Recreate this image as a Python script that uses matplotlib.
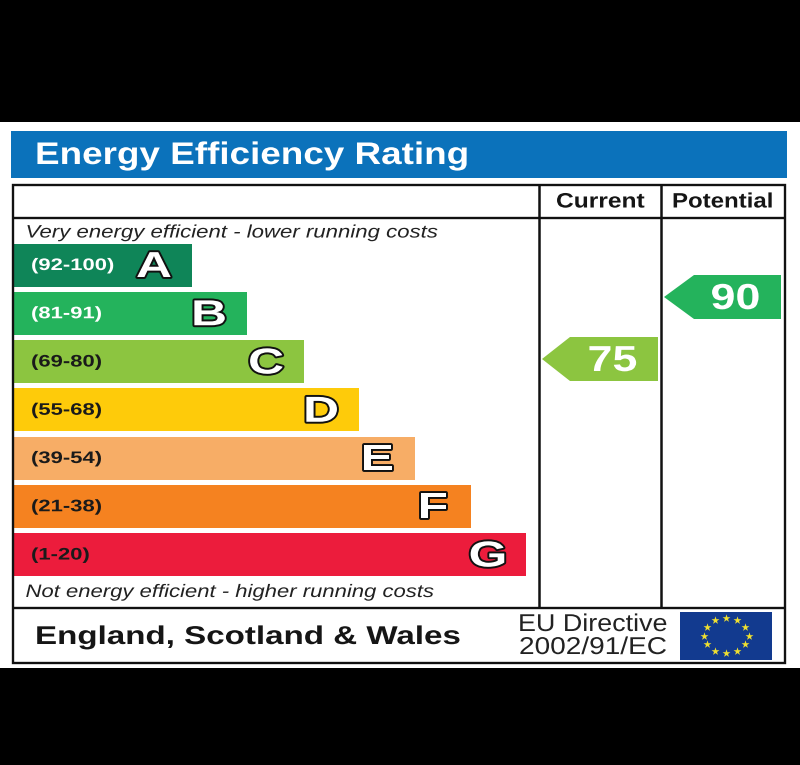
import matplotlib
matplotlib.use("Agg")
import matplotlib.pyplot as plt
import matplotlib.patheffects as pe
from matplotlib.transforms import Affine2D
import numpy as np
from matplotlib.patches import Rectangle, Polygon

# ---- data ----
band_letters = ["A", "B", "C", "D", "E", "F", "G"]
band_ranges = ["(92-100)", "(81-91)", "(69-80)", "(55-68)", "(39-54)", "(21-38)", "(1-20)"]
band_lengths = [178, 233, 290, 345, 401, 457, 512]
current_score = 75
potential_score = 90
title_text = "Energy Efficiency Rating"
column_titles = ["Current", "Potential"]
top_note = "Very energy efficient - lower running costs"
bottom_note = "Not energy efficient - higher running costs"
region_text = "England, Scotland & Wales"
directive_lines = ["EU Directive", "2002/91/EC"]

# ---- styles ----
band_colors = ["#0f8558", "#24b35c", "#8cc540", "#fecb0a", "#f7ad66", "#f58220", "#ec1c3c"]
band_text_colors = ["#ffffff", "#ffffff", "#1a1a1a", "#1a1a1a", "#1a1a1a", "#1a1a1a", "#1a1a1a"]
BLUE = "#0b72bb"
FONT = "Liberation Sans"
INK = "#151515"

fig = plt.figure(figsize=(8, 7.65), dpi=100, facecolor="black")
ax = fig.add_axes([0, 0, 1, 1])
ax.set_xlim(0, 800)
ax.set_ylim(765, 0)
ax.axis("off")
renderer = fig.canvas.get_renderer()


class HStretch(pe.AbstractPathEffect):
    """Widen glyphs about the text anchor, as the reference is a horizontally stretched image."""

    def __init__(self, anchor_x, sx, stroke=None, stroke_color="#111111"):
        super().__init__()
        self.anchor_x, self.sx, self.stroke, self.stroke_color = anchor_x, sx, stroke, stroke_color

    def draw_path(self, rend, gc, tpath, affine, rgbFace=None):
        stretched = affine + Affine2D().translate(-self.anchor_x, 0).scale(self.sx, 1).translate(self.anchor_x, 0)
        if self.stroke:
            gc0 = rend.new_gc()
            gc0.copy_properties(gc)
            gc0.set_linewidth(self.stroke)
            gc0.set_foreground(self.stroke_color)
            rend.draw_path(gc0, tpath, stretched, rgbFace)
            gc0.restore()
        rend.draw_path(gc, tpath, stretched, rgbFace)


def stext(x, y, s, size, width=None, sx=None, ha="left", color=INK, weight="normal",
          style="normal", stroke=None):
    """Baseline-anchored text widened to a target pixel width (or by a given factor)."""
    t = ax.text(x, y, s, fontsize=size, family=FONT, fontweight=weight, fontstyle=style,
                color=color, ha=ha, va="baseline", zorder=6)
    if sx is None:
        sx = width / t.get_window_extent(renderer).width
    anchor = ax.transData.transform((x, y))[0]
    t.set_path_effects([HStretch(anchor, sx, stroke)])
    return sx


ax.add_patch(Rectangle((0, 122), 800, 546, fc="white", ec="none", zorder=0))
ax.add_patch(Rectangle((11, 131), 776, 47, fc=BLUE, ec="none", zorder=1))
stext(35, 164, title_text, 22.5, width=434, color="white", weight="bold")

# frame
ax.add_patch(Rectangle((12.5, 184.5), 772, 478, fc="none", ec="#111111", lw=1.7, zorder=4))
ax.plot([13, 785], [218, 218], color="#111111", lw=1.7, zorder=4, solid_capstyle="butt")
ax.plot([13, 785], [607.5, 607.5], color="#111111", lw=1.7, zorder=4, solid_capstyle="butt")
for xv in (539, 661):
    ax.plot([xv, xv], [185, 607], color="#111111", lw=1.8, zorder=4, solid_capstyle="butt")

stext(556, 207.5, column_titles[0], 15, width=89, weight="bold")
stext(672, 207.5, column_titles[1], 15, width=102, weight="bold")

stext(25.5, 237.5, top_note, 13, width=411, style="italic", color="#222222")
stext(25.5, 597, bottom_note, 13, width=407, style="italic", color="#222222")

# bands
centres = np.linspace(265, 554.5, len(band_lengths))
ax.barh(centres, band_lengths, height=43, left=14, color=band_colors, edgecolor="none", zorder=2)
range_sx = None
for yc, length, letter, rng, tc in zip(centres, band_lengths, band_letters, band_ranges, band_text_colors):
    if range_sx is None:
        range_sx = stext(31, yc + 5, rng, 12, width=83, color=tc, weight="bold")
    else:
        stext(31, yc + 5, rng, 12, sx=range_sx, color=tc, weight="bold")
    stext(14 + length - 38, yc + 12, letter, 26, sx=1.38, ha="center", color="white",
          weight="bold", stroke=2.8)


def score_arrow(tip_x, shoulder_x, right_x, top, bottom, color, score, text_x):
    mid = (top + bottom) / 2
    ax.add_patch(Polygon([(tip_x, mid), (shoulder_x, top), (right_x, top), (right_x, bottom),
                          (shoulder_x, bottom)], closed=True, fc=color, ec="none", zorder=3))
    stext(text_x, mid + 12, str(score), 26, width=50, ha="center", color="white", weight="bold")


score_arrow(542, 570, 658, 337, 381, band_colors[2], current_score, 612.5)
score_arrow(664, 694, 781, 275, 319, band_colors[1], potential_score, 735.5)

# footer
stext(35, 644, region_text, 18.5, width=427, weight="bold")
stext(518, 631, directive_lines[0], 17.5, width=149, color="#222222")
stext(519, 654, directive_lines[1], 17.5, width=148, color="#222222")

# EU flag
ax.add_patch(Rectangle((680, 612), 92, 47.5, fc="#123a8f", ec="none", zorder=3))
angles = np.deg2rad(np.arange(0, 360, 30))
ax.scatter(726 + 22.5 * np.cos(angles), 635.5 + 17.5 * np.sin(angles), marker="*", s=36,
           color="#f0e030", linewidths=0, zorder=4)

fig.savefig("out.png", dpi=100, facecolor=fig.get_facecolor())
